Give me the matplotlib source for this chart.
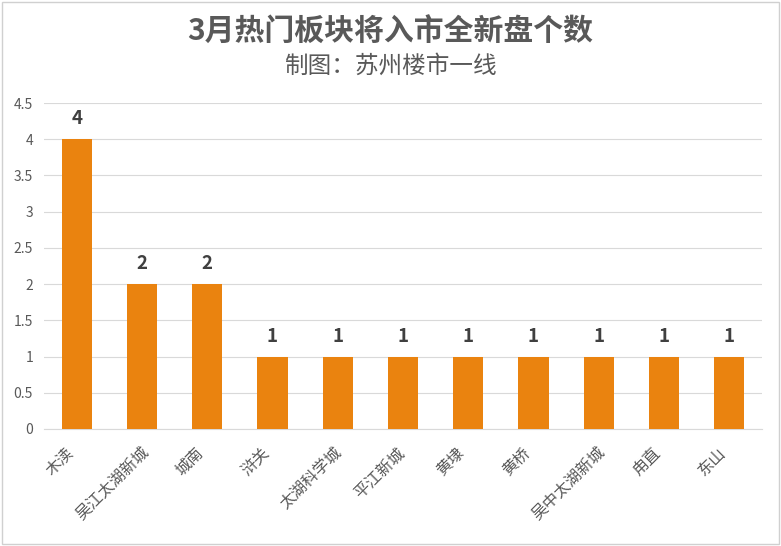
import numpy as np
import matplotlib.pyplot as plt
import matplotlib.transforms as mtransforms
from matplotlib.patches import Rectangle

plt.rcParams['font.family'] = ['Noto Sans CJK SC', 'DejaVu Sans']

areas = ['木渎', '吴江太湖新城', '城南', '浒关', '太湖科学城', '平江新城',
         '黄埭', '黄桥', '吴中太湖新城', '甪直', '东山']
counts = [4, 2, 2, 1, 1, 1, 1, 1, 1, 1, 1]
y_ticks = [0, 0.5, 1, 1.5, 2, 2.5, 3, 3.5, 4, 4.5]

bar_color = '#EA830F'
text_gray = '#595959'

fig = plt.figure(figsize=(7.81, 5.46), dpi=100)
ax = fig.add_axes([0.0565, 0.2143, 0.919, 0.597])

x = np.arange(len(areas))
ax.bar(x, counts, width=0.46, color=bar_color, zorder=3)
for xi, c in zip(x, counts):
    ax.text(xi, c + 0.15, str(c), ha='center', va='bottom', fontsize=13.5,
            fontweight='bold', color='#404040')

ax.set_xlim(-0.5, len(areas) - 0.5)
ax.set_ylim(0, 4.5)
ax.set_yticks(y_ticks)
ax.set_yticklabels(['0', '0.5', '1', '1.5', '2', '2.5', '3', '3.5', '4', '4.5'])
ax.grid(axis='y', color='#D9D9D9', linewidth=0.8, zorder=0)
ax.tick_params(axis='y', length=0, labelsize=10, labelcolor=text_gray, pad=8)
ax.tick_params(axis='x', length=0, pad=11)
ax.set_xticks(x)
ax.set_xticklabels(areas, rotation=45, ha='right', rotation_mode='anchor',
                   fontsize=11.5, color=text_gray)

# Excel-style placement: longer labels sit a little further right
for lab, name in zip(ax.get_xticklabels(), areas):
    dx = (-12 + (len(name) - 2) * 2.7) / 100
    lab.set_transform(lab.get_transform() +
                      mtransforms.ScaledTranslation(dx, 0, fig.dpi_scale_trans))

for s in ['top', 'right', 'left']:
    ax.spines[s].set_visible(False)
ax.spines['bottom'].set_color('#D9D9D9')

fig.text(0.5, 0.941, '3月热门板块将入市全新盘个数', ha='center', va='center',
         fontsize=21.5, fontweight='bold', color=text_gray)
fig.text(0.5, 0.879, '制图：苏州楼市一线', ha='center', va='center',
         fontsize=17, color=text_gray)

fig.patches.append(Rectangle((0.002, 0.003), 0.996, 0.994, transform=fig.transFigure,
                             fill=False, edgecolor='#D0D0D0', linewidth=1))

fig.savefig('out.png', dpi=100)
